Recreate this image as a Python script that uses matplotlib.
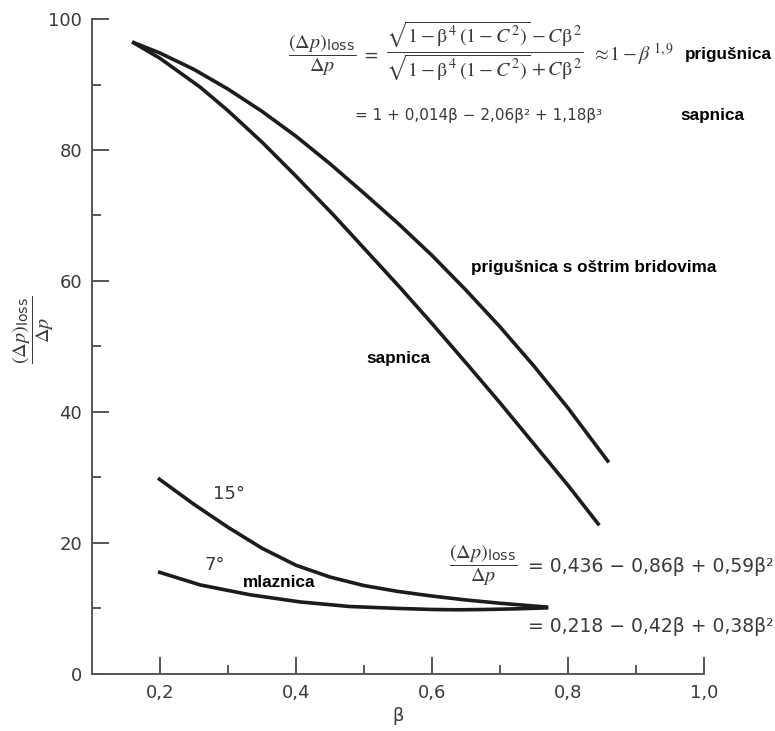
import matplotlib

matplotlib.use("Agg")
import matplotlib.pyplot as plt  # noqa: E402
from matplotlib.ticker import MultipleLocator, FixedLocator  # noqa: E402

# values (beta, loss in %)
orifice_beta = [0.159, 0.20, 0.25, 0.30, 0.35, 0.40, 0.45, 0.50, 0.55, 0.60,
                0.65, 0.70, 0.75, 0.80, 0.860]
orifice_loss = [96.5, 94.8, 92.3, 89.3, 85.9, 82.1, 77.9, 73.4, 68.8, 63.9,
                58.6, 53.0, 47.0, 40.6, 32.3]

nozzle_beta = [0.159, 0.20, 0.259, 0.30, 0.35, 0.40, 0.454, 0.50, 0.553, 0.60,
               0.65, 0.70, 0.75, 0.80, 0.846]
nozzle_loss = [96.5, 94.0, 89.6, 86.0, 81.2, 76.0, 70.2, 65.0, 59.0, 53.5,
               47.5, 41.4, 35.1, 28.8, 22.7]

venturi15_beta = [0.197, 0.25, 0.30, 0.35, 0.40, 0.45, 0.50, 0.55, 0.60, 0.65, 0.70, 0.771]
venturi15_loss = [29.9, 25.9, 22.4, 19.2, 16.6, 14.8, 13.5, 12.6, 11.9, 11.3, 10.8, 10.2]

venturi7_beta = [0.197, 0.259, 0.332, 0.406, 0.479, 0.553, 0.60, 0.637, 0.68, 0.725, 0.771]
venturi7_loss = [15.6, 13.6, 12.1, 11.0, 10.3, 10.0, 9.85, 9.8, 9.85, 9.95, 10.1]

x_ticks = [0.2, 0.4, 0.6, 0.8, 1.0]
x_tick_labels = ["0,2", "0,4", "0,6", "0,8", "1,0"]
y_ticks = [0, 20, 40, 60, 80, 100]

plt.rcParams["mathtext.fontset"] = "stix"
plt.rcParams["font.family"] = "DejaVu Sans"

AXIS_GREY = "#555555"
TEXT_GREY = "#3a3a3a"
LINE = "#1c1c1c"

fig = plt.figure(figsize=(7.75, 7.31), dpi=100)
ax = fig.add_axes([0.1187, 0.078, 0.7897, 0.896])

for xs, ys in [
    (orifice_beta, orifice_loss),
    (nozzle_beta, nozzle_loss),
    (venturi15_beta, venturi15_loss),
    (venturi7_beta, venturi7_loss),
]:
    ax.plot(xs, ys, color=LINE, linewidth=2.6, solid_capstyle="butt",
            solid_joinstyle="round")

ax.set_xlim(0.1, 1.0)
ax.set_ylim(0, 100)
ax.xaxis.set_major_locator(FixedLocator(x_ticks))
ax.set_xticklabels(x_tick_labels)
ax.xaxis.set_minor_locator(FixedLocator([0.3, 0.5, 0.7, 0.9]))
ax.yaxis.set_major_locator(FixedLocator(y_ticks))
ax.yaxis.set_minor_locator(MultipleLocator(10))

for side in ("top", "right"):
    ax.spines[side].set_visible(False)
for side in ("left", "bottom"):
    ax.spines[side].set_color(AXIS_GREY)
    ax.spines[side].set_linewidth(1.4)

ax.tick_params(which="major", direction="in", length=12, width=1.4,
               color=AXIS_GREY, labelsize=13, labelcolor=TEXT_GREY, pad=7)
ax.tick_params(which="minor", direction="in", length=6.5, width=1.4, color=AXIS_GREY)

frac = r"$\dfrac{(\Delta p)_{\mathregular{loss}}}{\Delta p}$"
ax.set_xlabel("β", fontsize=13, color=TEXT_GREY, labelpad=4)
ax.text(-0.096, 0.525, frac, transform=ax.transAxes, rotation=90,
        fontsize=14.5, color=TEXT_GREY, ha="center", va="center")

BOLD = dict(fontsize=12.3, fontweight="bold", family="Liberation Sans",
            color="black", ha="left", va="center")

# top formulas
ax.text(0.438, 94.5, frac, fontsize=14.5, color=TEXT_GREY, ha="center", va="center")
ax.text(0.51, 94.4, "=", fontsize=13, color=TEXT_GREY, ha="center", va="center")
big = (r"$\dfrac{\sqrt{1-\mathrm{β}^{\,4}\,(1-C^{2})}-C\mathrm{β}^{\,2}}"
       r"{\sqrt{1-\mathrm{β}^{\,4}\,(1-C^{2})}+C\mathrm{β}^{\,2}}$")
ax.text(0.678, 95.0, big, fontsize=14.5, color=TEXT_GREY, ha="center", va="center")
ax.text(0.835, 94.6, r"$\approx\!1-\beta^{\,1,9}$", fontsize=14.5, color=TEXT_GREY,
        ha="left", va="center")
ax.text(0.972, 94.6, "prigušnica", **BOLD)
ax.text(0.487, 85.3, "= 1 + 0,014β − 2,06β² + 1,18β³", fontsize=11,
        color=TEXT_GREY, ha="left", va="center")
ax.text(0.965, 85.3, "sapnica", **BOLD)

# curve labels
ax.text(0.657, 62.1, "prigušnica s oštrim bridovima", **BOLD)
ax.text(0.504, 48.2, "sapnica", **BOLD)
ax.text(0.278, 27.5, "15°", fontsize=13, color=TEXT_GREY, ha="left", va="center")
ax.text(0.266, 16.6, "7°", fontsize=13, color=TEXT_GREY, ha="left", va="center")
ax.text(0.322, 14.0, "mlaznica", **BOLD)

# venturi formulas
ax.text(0.675, 16.6, frac, fontsize=14.5, color=TEXT_GREY, ha="center", va="center")
ax.text(0.741, 16.4, "= 0,436 − 0,86β + 0,59β²", fontsize=13.5,
        color=TEXT_GREY, ha="left", va="center")
ax.text(0.741, 7.3, "= 0,218 − 0,42β + 0,38β²", fontsize=13.5,
        color=TEXT_GREY, ha="left", va="center")

fig.savefig("out.png", dpi=100)
plt.close(fig)
